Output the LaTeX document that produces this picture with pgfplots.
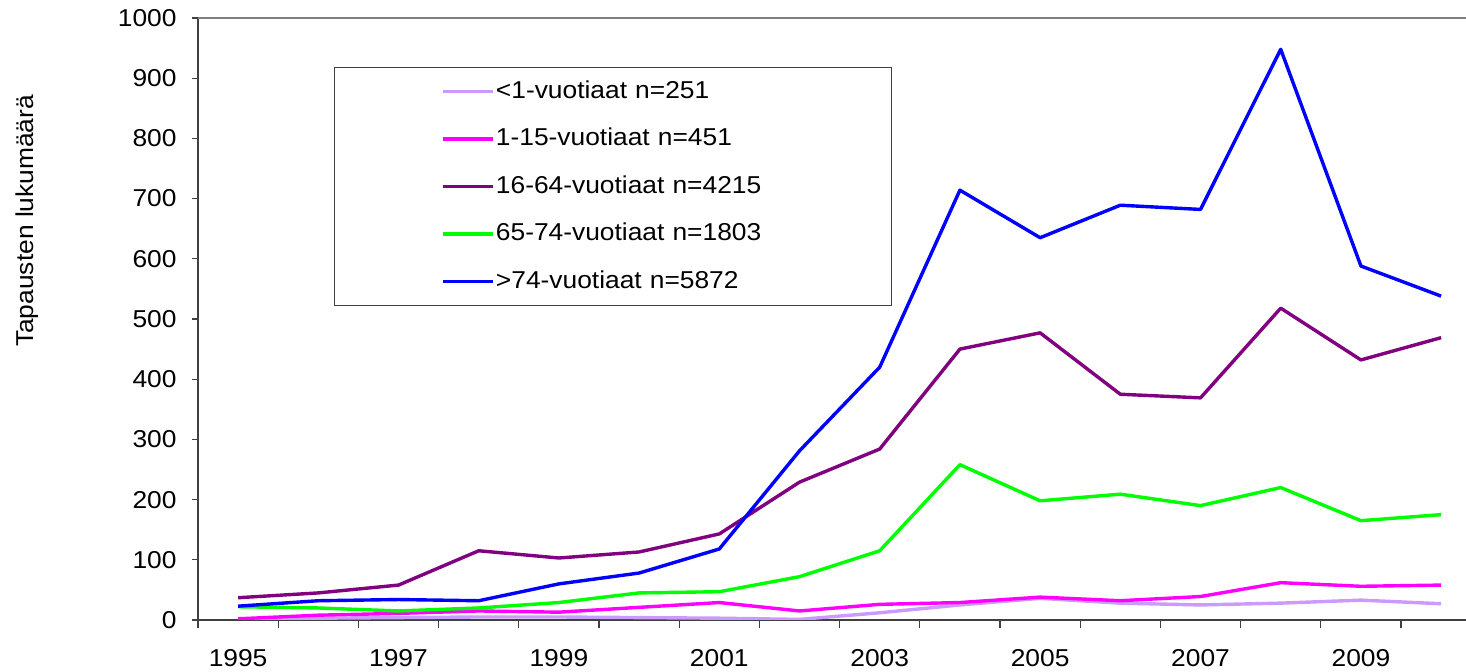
\documentclass[border=0pt]{standalone}
\usepackage{pgfplots}
\pgfplotsset{compat=1.18}
\usepackage{fontspec}
\setmainfont[FakeStretch=1.08]{Liberation Sans}
\definecolor{cLav}{HTML}{CC99FF}
\definecolor{cMag}{HTML}{FF00FF}
\definecolor{cPur}{HTML}{800080}
\definecolor{cGrn}{HTML}{00FF00}
\definecolor{cBlu}{HTML}{0000FF}
\definecolor{axc}{HTML}{404040}
\begin{document}
\begin{tikzpicture}
\begin{axis}[
  scale only axis, width=1268bp, height=602bp,
  xmin=1994.5, xmax=2010.31, ymin=0, ymax=1000,
  axis x line=bottom, axis y line=left,
  axis line style={-, draw=axc, line width=1.6bp},
  xtick={1995,1997,...,2009},
  xticklabels={1995,1997,1999,2001,2003,2005,2007,2009},
  minor xtick={1994.5,1995.5,...,2009.5},
  major x tick style={draw=none},
  ytick={0,100,...,1000},
  tick align=outside,
  major tick length=6bp, minor tick length=8bp,
  every tick/.style={draw=axc, line width=1.3bp},
  minor x tick style={draw=axc, line width=1.3bp},
  major y tick style={draw=axc, line width=1.3bp},
  /pgf/number format/assume math mode=true,
  /pgf/number format/1000 sep={},
  tick label style={font=\fontsize{24.5}{29}\selectfont},
  xticklabel style={yshift=-20bp},
  yticklabel style={xshift=-12bp},
  ylabel={Tapausten lukumäärä},
  ylabel style={at={(axis description cs:-0.135,0.663)}, anchor=center, font=\fontsize{24.5}{29}\selectfont},
  legend cell align=left,
  legend image code/.code={\path (-107bp,0bp); \draw[#1] (0bp,0bp) -- (50bp,0bp);},
  legend style={at={(axis description cs:0.1073,0.9186)}, anchor=north west,
    inner xsep=0pt, inner ysep=12.5bp, draw=black!75, line width=1bp,
    row sep=24.5bp, column sep=0pt,
    font=\fontsize{24.5}{29}\selectfont,
    nodes={text height=18bp, text depth=5bp, inner ysep=0pt, inner xsep=1bp, text width=395bp, align=left}},
  every axis plot/.append style={line width=3.4bp, line join=round, no markers},
]
\addplot[cLav] coordinates {(1995,1) (1996,3) (1997,4) (1998,5) (1999,5) (2000,4) (2001,3) (2002,1) (2003,12) (2004,25) (2005,36) (2006,28) (2007,25) (2008,28) (2009,33) (2010,27)};
\addlegendentry{<1-vuotiaat n=251}
\addplot[cMag] coordinates {(1995,2) (1996,8) (1997,11) (1998,15) (1999,13) (2000,21) (2001,29) (2002,15) (2003,26) (2004,29) (2005,38) (2006,32) (2007,39) (2008,62) (2009,56) (2010,58)};
\addlegendentry{1-15-vuotiaat n=451}
\addplot[cPur] coordinates {(1995,37) (1996,45) (1997,58) (1998,115) (1999,103) (2000,113) (2001,143) (2002,229) (2003,284) (2004,450) (2005,477) (2006,375) (2007,369) (2008,518) (2009,432) (2010,469)};
\addlegendentry{16-64-vuotiaat n=4215}
\addplot[cGrn] coordinates {(1995,22) (1996,20) (1997,15) (1998,20) (1999,29) (2000,45) (2001,47) (2002,72) (2003,115) (2004,258) (2005,198) (2006,209) (2007,190) (2008,220) (2009,165) (2010,175)};
\addlegendentry{65-74-vuotiaat n=1803}
\addplot[cBlu] coordinates {(1995,23) (1996,32) (1997,34) (1998,32) (1999,60) (2000,78) (2001,118) (2002,281) (2003,420) (2004,714) (2005,635) (2006,689) (2007,682) (2008,948) (2009,588) (2010,538)};
\addlegendentry{>74-vuotiaat n=5872}
\draw[draw=gray, line width=1.6bp] (rel axis cs:0,1) -- (rel axis cs:1,1);
\end{axis}
\pgfresetboundingbox
\path[use as bounding box] (-198bp,-52bp) rectangle (1268bp,620bp);
\end{tikzpicture}
\end{document}
